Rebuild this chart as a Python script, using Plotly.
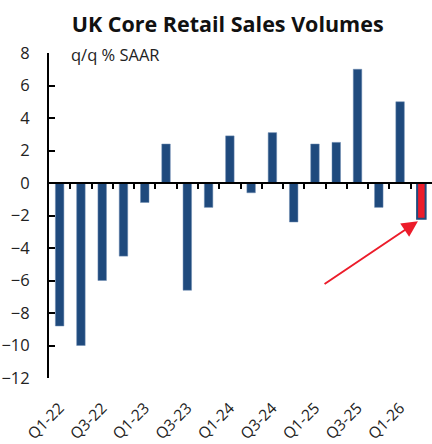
import plotly.graph_objects as go

quarters = ["Q1-22", "Q2-22", "Q3-22", "Q4-22", "Q1-23", "Q2-23", "Q3-23", "Q4-23",
            "Q1-24", "Q2-24", "Q3-24", "Q4-24", "Q1-25", "Q2-25", "Q3-25", "Q4-25",
            "Q1-26", "Q2-26"]
values = [-8.8, -10.0, -6.0, -4.5, -1.2, 2.4, -6.6, -1.5,
          2.9, -0.6, 3.1, -2.4, 2.4, 2.5, 7.0, -1.5, 5.0, -2.2]
highlight = "Q2-26"
y_ticks = [8, 6, 4, 2, 0, -2, -4, -6, -8, -10, -12]

BLUE = "#1f4a7d"
RED = "#ec1c2a"
FONT = "Open Sans"

xs = list(range(len(quarters)))
fill = [RED if q == highlight else BLUE for q in quarters]
line_w = [2 if q == highlight else 0.5 for q in quarters]
line_c = [BLUE if q == highlight else "#6f8db3" for q in quarters]

fig = go.Figure()
fig.add_trace(go.Bar(
    x=xs, y=values, width=0.4,
    marker=dict(color=fill, line=dict(color=line_c, width=line_w)),
    showlegend=False, hoverinfo="skip",
))
# invisible companion trace so the zero-line axis is drawn with its ticks
fig.add_trace(go.Scatter(
    x=xs, y=values, xaxis="x2", mode="markers",
    marker=dict(opacity=0), showlegend=False, hoverinfo="skip",
))

label_idx = xs[::2]
fig.update_layout(
    width=432, height=444,
    margin=dict(l=49, r=0, t=53, b=59),
    paper_bgcolor="white", plot_bgcolor="white",
    font=dict(family=FONT, color="#222222"),
    xaxis=dict(
        range=[-0.5, len(quarters) - 0.5],
        tickvals=label_idx,
        ticktext=[quarters[i] for i in label_idx],
        tickangle=-45,
        showline=False, showgrid=False, zeroline=False,
        ticks="outside", ticklen=14, tickcolor="rgba(0,0,0,0)",
        tickfont=dict(size=15.5, family=FONT, color="#222222"),
    ),
    xaxis2=dict(
        overlaying="x", anchor="free", position=12 / 20, side="bottom",
        range=[-0.5, len(quarters) - 0.5],
        tickvals=[i + 0.5 for i in xs[:-1]],
        showticklabels=False,
        showline=True, linecolor="black", linewidth=2,
        ticks="outside", ticklen=5, tickwidth=2, tickcolor="black",
        showgrid=False, zeroline=False,
    ),
    yaxis=dict(
        range=[-12, 8],
        tickvals=y_ticks,
        ticks="inside", ticklen=6, tickwidth=2, tickcolor="black",
        showline=True, linecolor="black", linewidth=2,
        showgrid=False, zeroline=False,
        ticklabelstandoff=14,
        tickfont=dict(size=16.5, family=FONT, color="#222222"),
    ),
    title=dict(
        text="<b>UK Core Retail Sales Volumes</b>",
        x=0.527, xanchor="center", y=0.945, yanchor="middle",
        font=dict(size=21.5, family=FONT, color="#111111"),
    ),
)

fig.add_annotation(
    text="q/q % SAAR", xref="paper", yref="paper",
    x=(69 - 49) / 383, xanchor="left", y=1.0, yanchor="bottom",
    yshift=-15, showarrow=False,
    font=dict(size=16.5, family=FONT, color="#222222"),
)

fig.add_annotation(
    x=16.84, y=-2.35, xref="x", yref="y",
    ax=12.38, ay=-6.28, axref="x", ayref="y",
    text="", showarrow=True,
    arrowhead=2, arrowsize=1.6, arrowwidth=2, arrowcolor=RED,
)

fig.write_html("out.html")
